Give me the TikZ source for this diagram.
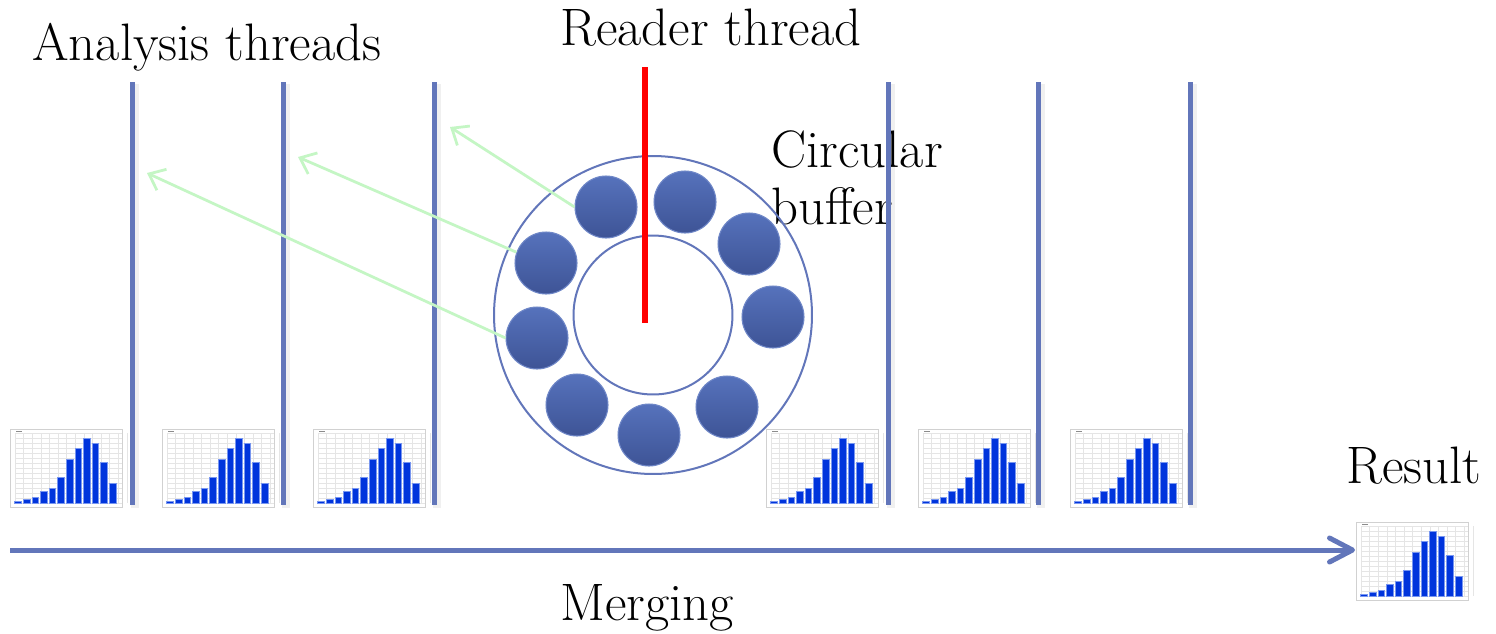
\documentclass[tikz,border=0pt]{standalone}
\usetikzlibrary{arrows.meta}
\definecolor{thrblue}{RGB}{98,118,186}
\definecolor{ctop}{RGB}{86,114,188}
\definecolor{cbot}{RGB}{62,84,150}
\definecolor{cedge}{RGB}{112,136,200}
\definecolor{arrgreen}{RGB}{196,246,196}
\definecolor{barblue}{RGB}{0,52,220}
\definecolor{baredge}{RGB}{120,150,240}
\tikzset{
  lbl/.style={font=\fontsize{30}{34}\selectfont, inner sep=0pt},
  thread/.style={draw=thrblue, line width=0.1cm},
  shadowline/.style={draw=black, opacity=0.06, line width=0.16cm},
  slot/.style={circle, minimum size=1.24cm, inner sep=0pt, draw=cedge, line width=0.6pt,
               top color=ctop, bottom color=cbot},
  ring/.style={draw=thrblue, line width=0.04cm},
  feed/.style={draw=arrgreen, line width=0.055cm, -{Straight Barb[length=2.8mm,width=4.6mm]}},
  merge/.style={draw=thrblue, line width=0.1cm, -{Straight Barb[length=4.6mm,width=4.8mm,round]}},
  hist/.pic={
    \fill[white] (0,0) rectangle (112,78);
    \draw[black!18, line width=0.2pt] (0,0) rectangle (112,78);
    \foreach \i in {0,...,13} \draw[black!10, line width=0.2pt] (5+\i*8.6,4) -- (5+\i*8.6,74);
    \foreach \j in {0,...,14} \draw[black!10, line width=0.2pt] (5,4+\j*5) -- (112,4+\j*5);
    \fill[black!45] (6,1.5) rectangle (12,3);
    \foreach \h [count=\k from 0] in {2,3.3,5.7,11.3,15,26,43.3,54.7,65,59.7,41,20}
      \draw[fill=barblue, draw=baredge, line width=0.3pt] (4.6+\k*8.6,74) rectangle ++(6.6,-\h);
  }
}
\begin{document}
\begin{tikzpicture}[x=0.02cm, y=-0.02cm]
\useasboundingbox (0,0) rectangle (1496,633);
\fill[white] (0,0) rectangle (1496,633);
% texts
\node[lbl, anchor=base west] (tA) at (32,60) {Analysis threads};
\node[lbl, anchor=base west] (tR) at (560,45) {Reader thread};
\node[lbl, anchor=base west] (tC1) at (771,167) {Circular};
\node[lbl, anchor=base west] (tC2) at (771,224) {buffer};
\node[lbl, anchor=base west] (tRes) at (1346,483) {Result};
\node[lbl, anchor=base west] (tM) at (560,620) {Merging};
% thread lines
\foreach \x [count=\n] in {132,283,434,888,1038,1190} {
  \draw[shadowline] (\x+3,84) -- (\x+3,508);
  \coordinate (top\n) at (\x,82);
  \coordinate (bot\n) at (\x,505);
  \draw[thread] (top\n) -- (bot\n);
}
% histograms
\foreach \x [count=\n] in {10,162,313,766,918,1070}
  \pic (h\n) at (\x,429) {hist};
\pic (hres) at (1356,522) {hist};
% ring
\node[circle, ring, minimum size=6.36cm, inner sep=0pt] (outer) at (653,315) {};
\node[circle, ring, minimum size=3.18cm, inner sep=0pt] (inner) at (653,315) {};
% buffer slots
\foreach \p [count=\n] in {(606,207),(685,202),(749,244),(773,317),(727,407),(649,435),(577,405),(537,338),(546,263)}
  \node[slot] (c\n) at \p {};
% reader thread
\coordinate (rtop) at (645,67);
\coordinate (rbot) at (645,323);
\draw[red, line width=0.12cm] (rtop) -- (rbot);
% arrows to analysis threads
\coordinate (a3) at (450,127);
\coordinate (a2) at (298,157);
\coordinate (a1) at (147,173);
\draw[feed] (c1.west) -- (a3);
\draw[feed] (c9.160) -- (a2);
\draw[feed] (c8.west) -- (a1);
% merging arrow
\coordinate (ms) at (10,550);
\coordinate (me) at (1355,550);
\draw[merge] (ms) -- (me);
\end{tikzpicture}
\end{document}
